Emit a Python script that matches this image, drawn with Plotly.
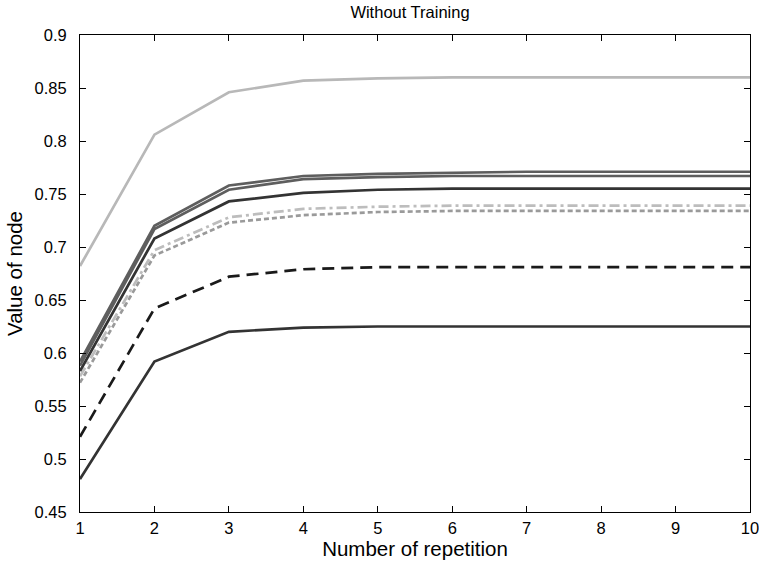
import plotly.graph_objects as go

x = list(range(1, 11))

light_solid = [0.682, 0.806, 0.846, 0.857, 0.859, 0.860, 0.860, 0.860, 0.860, 0.860]
gray_top = [0.592, 0.720, 0.758, 0.767, 0.769, 0.770, 0.771, 0.771, 0.771, 0.771]
gray_second = [0.588, 0.717, 0.754, 0.764, 0.766, 0.767, 0.767, 0.767, 0.767, 0.767]
dark_solid = [0.583, 0.708, 0.743, 0.751, 0.754, 0.755, 0.755, 0.755, 0.755, 0.755]
light_dashdot = [0.578, 0.697, 0.728, 0.736, 0.738, 0.739, 0.739, 0.739, 0.739, 0.739]
gray_dotted = [0.572, 0.692, 0.723, 0.730, 0.733, 0.734, 0.734, 0.734, 0.734, 0.734]
black_dashed = [0.521, 0.642, 0.672, 0.679, 0.681, 0.681, 0.681, 0.681, 0.681, 0.681]
bottom_solid = [0.481, 0.592, 0.620, 0.624, 0.625, 0.625, 0.625, 0.625, 0.625, 0.625]

x_ticks = x
x_ticktext = [str(v) for v in x]
y_ticks = [0.45, 0.5, 0.55, 0.6, 0.65, 0.7, 0.75, 0.8, 0.85, 0.9]
y_ticktext = ["0.45", "0.5", "0.55", "0.6", "0.65", "0.7", "0.75", "0.8", "0.85", "0.9"]

series = [
    (bottom_solid, "#333333", "solid", 2.7),
    (black_dashed, "#1a1a1a", "12px,7px", 2.7),
    (gray_dotted, "#9a9a9a", "5px,3px", 2.7),
    (light_dashdot, "#bdbdbd", "10px,4px,3px,4px", 2.7),
    (dark_solid, "#333333", "solid", 2.7),
    (gray_second, "#5e5e5e", "solid", 2.7),
    (gray_top, "#5e5e5e", "solid", 2.7),
    (light_solid, "#b8b8b8", "solid", 2.7),
]

fig = go.Figure()
for ys, color, dash, w in series:
    fig.add_trace(go.Scatter(x=x, y=ys, mode="lines",
                             line=dict(color=color, dash=dash, width=w),
                             showlegend=False))

font_family = "Liberation Sans, Arial, sans-serif"
fig.update_layout(
    width=759, height=563,
    margin=dict(l=80, r=9, t=35, b=51),
    paper_bgcolor="white", plot_bgcolor="white",
    font=dict(family=font_family, color="black", size=16.5),
    title=dict(text="Without Training", x=410 / 759, xanchor="center",
               y=1 - 12.5 / 563, yanchor="middle", font=dict(size=16.5)),
)
fig.update_xaxes(range=[1, 10], tickvals=x_ticks, ticktext=x_ticktext,
                 ticks="inside", ticklen=6, tickcolor="black", showgrid=False,
                 zeroline=False, showline=True, linecolor="black", linewidth=1,
                 mirror="ticks", automargin=False, ticklabeloverflow="allow",
                 ticklabelstandoff=1,
                 title=dict(text="Number of repetition", font=dict(size=20.5), standoff=2),
                 tickfont=dict(size=16.5))
fig.update_yaxes(range=[0.45, 0.9], tickvals=y_ticks, ticktext=y_ticktext,
                 ticks="inside", ticklen=6, tickcolor="black", showgrid=False,
                 zeroline=False, showline=True, linecolor="black", linewidth=1,
                 mirror="ticks", automargin=False, ticklabeloverflow="allow",
                 ticklabelstandoff=9,
                 title=dict(text="Value of node", font=dict(size=20.5), standoff=6),
                 tickfont=dict(size=16.5))

fig.write_html("out.html",
               config={"displayModeBar": False},
               post_script="document.body.style.margin='0';document.body.style.overflow='hidden';")
